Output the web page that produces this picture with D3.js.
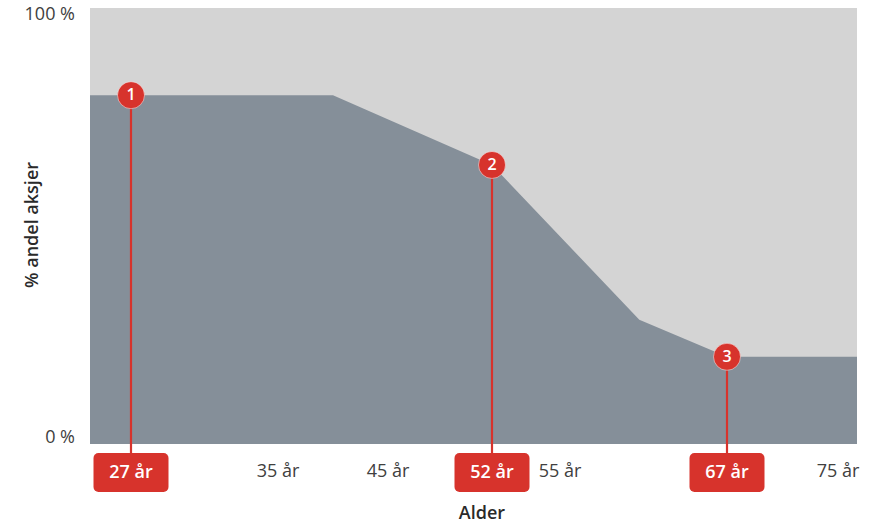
<!DOCTYPE html>
<html>
<head>
<meta charset="utf-8">
<script src="https://cdn.jsdelivr.net/npm/d3@7/dist/d3.min.js"></script>
<style>
  html, body { margin: 0; padding: 0; background: #fff; }
  svg { display: block; font-family: "Open Sans", "Noto Sans", sans-serif; }
</style>
</head>
<body>
<svg id="chart" width="871" height="523"></svg>
<script>
// ---- data ----
const areaAges   = [25, 40, 52, 60.7, 67, 76.5];
const areaShares = [80, 80, 64, 28.5, 20, 20];

const markerIds    = [1, 2, 3];
const markerAges   = [27, 52, 67];
const markerShares = [80, 64, 20];
const markerLabels = ["27 år", "52 år", "67 år"];

const tickAges   = [35, 45, 55, 75];
const tickLabels = ["35 år", "45 år", "55 år", "75 år"];

const yTickValues = [0, 100];
const yTickLabels = ["0 %", "100 %"];

const xTitle = "Alder";
const yTitle = "% andel aksjer";

// ---- layout ----
const W = 871, H = 523;
const m = { left: 90, right: 14, top: 8, bottom: 79 };
const pw = W - m.left - m.right, ph = H - m.top - m.bottom;

const svg = d3.select("#chart");
const g = svg.append("g").attr("transform", `translate(${m.left},${m.top})`);

// schematic (piecewise) age axis, as in the original illustration
const x = d3.scaleLinear()
  .domain([25, 27, 35, 45, 52, 55, 67, 75, 76.5])
  .range([0, 41, 188, 298, 402, 470, 637, 748, pw]);
const y = d3.scaleLinear().domain([0, 100]).range([ph, 0]);

const RED = "#d7332c";
const TEXT = "#404040";

// background
g.append("rect").attr("x", 0).attr("y", 0).attr("width", pw).attr("height", ph)
  .attr("fill", "#d4d4d4");

// area
const areaData = areaAges.map((a, i) => ({ age: a, v: areaShares[i] }));
g.append("path").datum(areaData)
  .attr("fill", "#858f99")
  .attr("d", d3.area().x(d => x(d.age)).y0(y(0)).y1(d => y(d.v)));

// y labels
yTickValues.forEach((v, i) => {
  svg.append("text")
    .attr("x", m.left - 15).attr("y", m.top + y(v) + (v === 0 ? -6 : 7))
    .attr("text-anchor", "end").attr("dominant-baseline", "middle")
    .attr("font-size", 18).attr("fill", TEXT)
    .text(yTickLabels[i]);
});

// x tick labels
tickAges.forEach((a, i) => {
  svg.append("text")
    .attr("x", m.left + x(a)).attr("y", 472)
    .attr("text-anchor", "middle").attr("dominant-baseline", "middle")
    .attr("font-size", 18).attr("fill", TEXT)
    .text(tickLabels[i]);
});

// markers
const boxW = 75, boxH = 39, boxTop = 453;
markerAges.forEach((a, i) => {
  const cx = m.left + x(a), cy = m.top + y(markerShares[i]);
  svg.append("line").attr("x1", cx).attr("x2", cx).attr("y1", cy).attr("y2", boxTop + 2)
    .attr("stroke", RED).attr("stroke-width", 2.2);
  svg.append("circle").attr("cx", cx).attr("cy", cy).attr("r", 13.5)
    .attr("fill", RED).attr("stroke", "#fff").attr("stroke-width", 0.8).attr("stroke-opacity", 0.6);
  svg.append("text").attr("x", cx).attr("y", cy + 1)
    .attr("text-anchor", "middle").attr("dominant-baseline", "middle")
    .attr("font-size", 16).attr("font-weight", 600).attr("fill", "#fff")
    .text(markerIds[i]);
  svg.append("rect").attr("x", cx - boxW / 2).attr("y", boxTop)
    .attr("width", boxW).attr("height", boxH).attr("rx", 5).attr("ry", 5)
    .attr("fill", RED);
  svg.append("text").attr("x", cx).attr("y", boxTop + boxH / 2 + 1)
    .attr("text-anchor", "middle").attr("dominant-baseline", "middle")
    .attr("font-size", 18).attr("font-weight", 600).attr("fill", "#fff")
    .text(markerLabels[i]);
});

// axis titles
svg.append("text").attr("x", 482).attr("y", 514)
  .attr("text-anchor", "middle").attr("dominant-baseline", "middle")
  .attr("font-size", 18).attr("font-weight", 600).attr("fill", "#2a2a2a")
  .text(xTitle);
svg.append("text")
  .attr("transform", `translate(33,${225}) rotate(-90)`)
  .attr("text-anchor", "middle").attr("dominant-baseline", "middle")
  .attr("font-size", 18).attr("font-weight", 600).attr("fill", "#2a2a2a")
  .text(yTitle);
</script>
</body>
</html>
